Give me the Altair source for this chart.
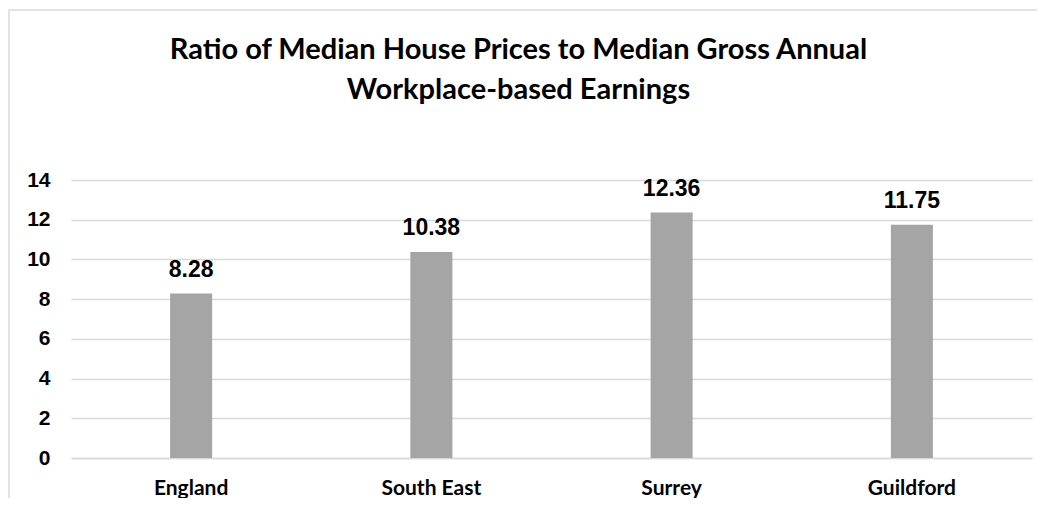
import altair as alt
import pandas as pd

categories = ["England", "South East", "Surrey", "Guildford"]
ratios = [8.28, 10.38, 12.36, 11.75]
y_ticks = [0, 2, 4, 6, 8, 10, 12, 14]
title_lines = ["Ratio of Median House Prices to Median Gross Annual",
               "Workplace-based Earnings"]

df = pd.DataFrame({"Area": categories, "Ratio": ratios})
df["Label"] = [f"{v:.2f}" for v in ratios]

x_enc = alt.X("Area:N", sort=categories,
              scale=alt.Scale(paddingInner=0.825, paddingOuter=0.4125),
              axis=alt.Axis(title=None, labelAngle=0, ticks=False, tickSize=0,
                            domain=True, domainColor="#D9D9D9", domainWidth=1.5,
                            labelFont="Lato", labelFontWeight="bold",
                            labelFontSize=21, labelColor="#000000",
                            labelPadding=19, grid=False))
y_enc = alt.Y("Ratio:Q", scale=alt.Scale(domain=[0, 14], nice=False),
              axis=alt.Axis(title=None, values=y_ticks, tickCount=8,
                            ticks=False, tickSize=0,
                            domain=False, grid=True, gridColor="#D9D9D9",
                            gridWidth=1.5, labelFont="Liberation Sans",
                            labelFontWeight="bold", labelFontSize=21,
                            labelColor="#000000", labelPadding=21,
                            labelOverlap=False))

bars = alt.Chart(df).mark_bar(color="#A5A5A5").encode(x=x_enc, y=y_enc)

labels = alt.Chart(df).mark_text(
    font="Liberation Sans", fontWeight="bold", fontSize=23, color="#000000",
    baseline="alphabetic", dy=-17
).encode(x=x_enc, y=y_enc, text="Label:N")

frame = alt.Chart(pd.DataFrame({"f": [0]})).mark_rect(
    fill=None, stroke="#D9D9D9", strokeWidth=1.5
).encode(x=alt.value(-62), x2=alt.value(1200),
         y=alt.value(-170), y2=alt.value(600))

chart = alt.layer(frame, bars, labels).properties(
    width=961, height=278,
    title=alt.TitleParams(text=title_lines, anchor="middle", frame="group",
                          dx=-33, offset=-96, font="Lato", fontWeight="bold",
                          fontSize=29, lineHeight=40, color="#000000"),
    autosize=alt.AutoSizeParams(type="none"),
    padding={"left": 63, "top": 172, "right": 5, "bottom": 40},
).configure(background="white").configure_view(stroke=None)

chart.save("out.html", embed_options={"renderer": "svg", "actions": False})
